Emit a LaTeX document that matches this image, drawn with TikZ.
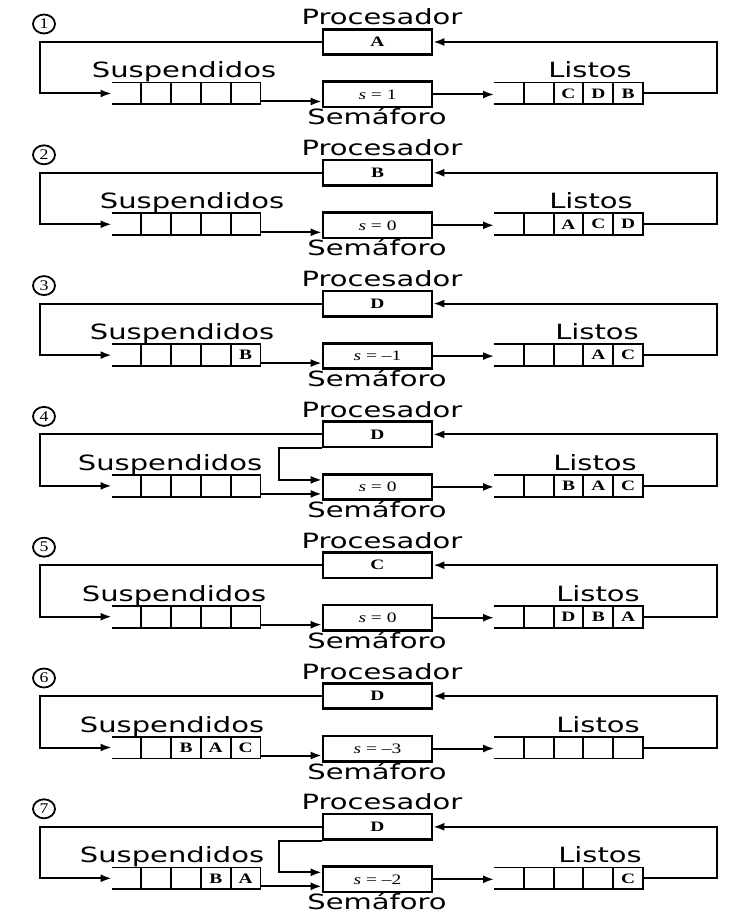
\documentclass[tikz,border=0pt]{standalone}
\usepackage{fontspec}
\usepackage{tikz}
\usetikzlibrary{arrows.meta,calc,positioning,shapes.geometric}
\newfontfamily\rotfont[FakeStretch=1.38]{DejaVu Sans}
\newfontfamily\letfont[FakeStretch=1.35]{Liberation Serif}
\newfontfamily\numfont[FakeStretch=1.2]{Liberation Serif}

% una cola con la entrada abierta a la izquierda
\newcommand{\fila}[2]{%
  \draw[linea] (#1.north west) -- (#1.north east) -- (#1.south east) -- (#1.south west);
  \foreach \k in {1,...,4}
    \draw[linea] ($(#1.north west)!\k/5!(#1.north east)$) -- ($(#1.south west)!\k/5!(#1.south east)$);
  \foreach \k/\q in {#2}{%
    \if\relax\detokenize\expandafter{\q}\relax\else
      \node[letra] (#1-\k) at ($(#1.west)!{(\k-0.5)/5}!(#1.east)$) {\q};
    \fi}%
}
% #1 paso, #2 procesador, #3 semaforo, #4 suspendidos, #5 listos, #6 desvio, #7/#8 x de los rotulos
\newcommand{\etapa}[8]{%
  \begin{scope}[shift={(0,{130.8*(#1-1)})}]
  \node[num] (n#1) at (44,24) {#1};
  \node[caja,font=\letfont\bfseries\fontsize{7.2}{8}\selectfont] (P#1) at (377.5,42) {#2};
  \node[caja] (M#1) at (377.5,94.5) {#3};
  \node[cola] (S#1) at (186,93.5) {};
  \node[cola] (L#1) at (568.5,93.5) {};
  \node[rot] (tp#1) at (382,25) {Procesador};
  \node[rot] (tm#1) at (377,125) {Semáforo};
  \node[rot] (ts#1) at (#7,78) {Suspendidos};
  \node[rot] (tl#1) at (#8,78) {Listos};
  \fila{S#1}{#4}
  \fila{L#1}{#5}
  \coordinate (izq#1) at (40,93.5);
  \coordinate (der#1) at (717,93.5);
  \coordinate (ab#1) at ([yshift=-3.5pt]M#1.west);
  \draw[flecha] (P#1.west) -| (izq#1) -- (S#1.west);
  \draw[flecha] (S#1.east |- ab#1) -- (ab#1);
  \draw[flecha] (M#1.east) -- (M#1.east -| L#1.west);
  \draw[flecha] (L#1.east) -- (der#1) |- (P#1.east);
  \ifnum#6=1
    \coordinate (ar#1) at ([yshift=3.5pt]M#1.west);
    \draw[flecha] (P#1.south west) -- ++(-43,0) |- (ar#1);
  \fi
  \end{scope}}

\begin{document}
\begin{tikzpicture}[x=0.5pt,y=-0.5pt,>={Latex[length=5.5pt,width=4pt]},
  caja/.style={draw,line width=1.3pt,minimum width=54.5pt,minimum height=12.7pt,inner sep=0pt,
    font=\letfont\fontsize{7.2}{8}\selectfont},
  cola/.style={minimum width=74pt,minimum height=10.5pt,inner sep=0pt},
  linea/.style={line width=0.9pt},
  letra/.style={inner sep=0pt,font=\letfont\bfseries\fontsize{7.2}{8}\selectfont},
  rot/.style={anchor=base,inner sep=0pt,font=\rotfont\fontsize{10.5}{12}\selectfont},
  num/.style={draw,ellipse,line width=0.9pt,minimum width=11pt,minimum height=9.5pt,inner sep=0pt,
    font=\numfont\fontsize{7.4}{8}\selectfont},
  flecha/.style={->,line width=1pt}]
\useasboundingbox (0,0) rectangle (731,913);
\etapa{1}{A}{\textit{s} = 1}{}{3/C,4/D,5/B}{0}{184}{590}
\etapa{2}{B}{\textit{s} = 0}{}{3/A,4/C,5/D}{0}{192}{591}
\etapa{3}{D}{\textit{s} = –1}{5/B}{4/A,5/C}{0}{182}{597}
\etapa{4}{D}{\textit{s} = 0}{}{3/B,4/A,5/C}{1}{170}{595}
\etapa{5}{C}{\textit{s} = 0}{}{3/D,4/B,5/A}{0}{174}{598}
\etapa{6}{D}{\textit{s} = –3}{3/B,4/A,5/C}{}{0}{172}{598}
\etapa{7}{D}{\textit{s} = –2}{4/B,5/A}{5/C}{1}{172}{600}
\end{tikzpicture}
\end{document}
